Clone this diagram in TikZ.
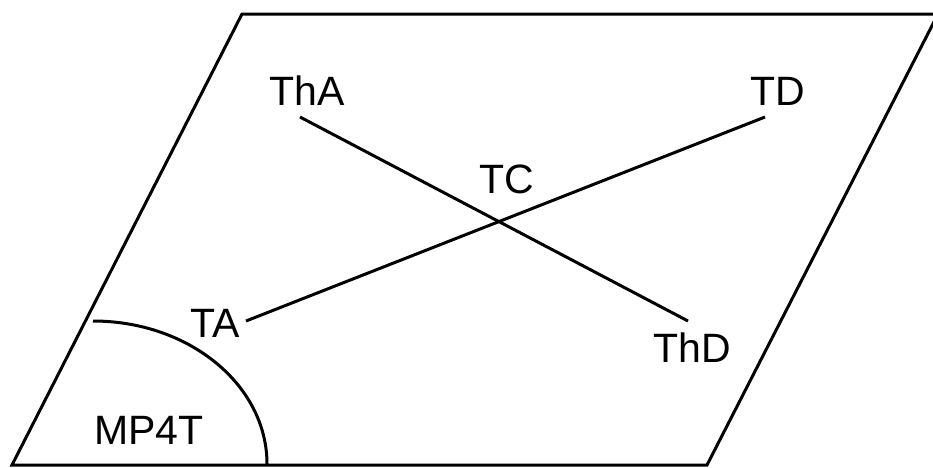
\documentclass[tikz,border=0pt]{standalone}
\usepackage{fontspec}
\setmainfont{Liberation Sans}
\begin{document}
\begin{tikzpicture}[x=1pt,y=1pt,
  edge/.style={line width=3pt,line join=miter},
  lab/.style={inner sep=0pt,anchor=base,font=\fontsize{41}{41}\selectfont}]
\useasboundingbox (0,0) rectangle (933,-467);
\clip (0,0) rectangle (933,-467);
% plane
\coordinate (BL) at (12,-465);
\coordinate (TL) at (242,-14);
\coordinate (TR) at (938,-14);
\coordinate (BR) at (707,-465);
\draw[edge] (BL) -- (TL) -- (TR) -- (BR) -- cycle;
% arc
\coordinate (arcS) at (93,-321);
\draw[edge] (arcS) arc[start angle=90,end angle=0,x radius=174,y radius=143];
% labels
\node[lab] (ThA) at (307,-105) {ThA};
\node[lab] (TD) at (778,-105) {TD};
\node[lab] (TC) at (507,-193) {TC};
\node[lab] (TA) at (215,-337) {TA};
\node[lab] (ThD) at (692,-362) {ThD};
\node[lab] (MP) at (149,-444) {MP4T};
% line ends
\coordinate (a1) at (300,-117);
\coordinate (a2) at (688,-321);
\coordinate (b1) at (246,-321);
\coordinate (b2) at (765,-117);
\draw[edge] (a1) -- (a2);
\draw[edge] (b1) -- (b2);
\end{tikzpicture}
\end{document}
